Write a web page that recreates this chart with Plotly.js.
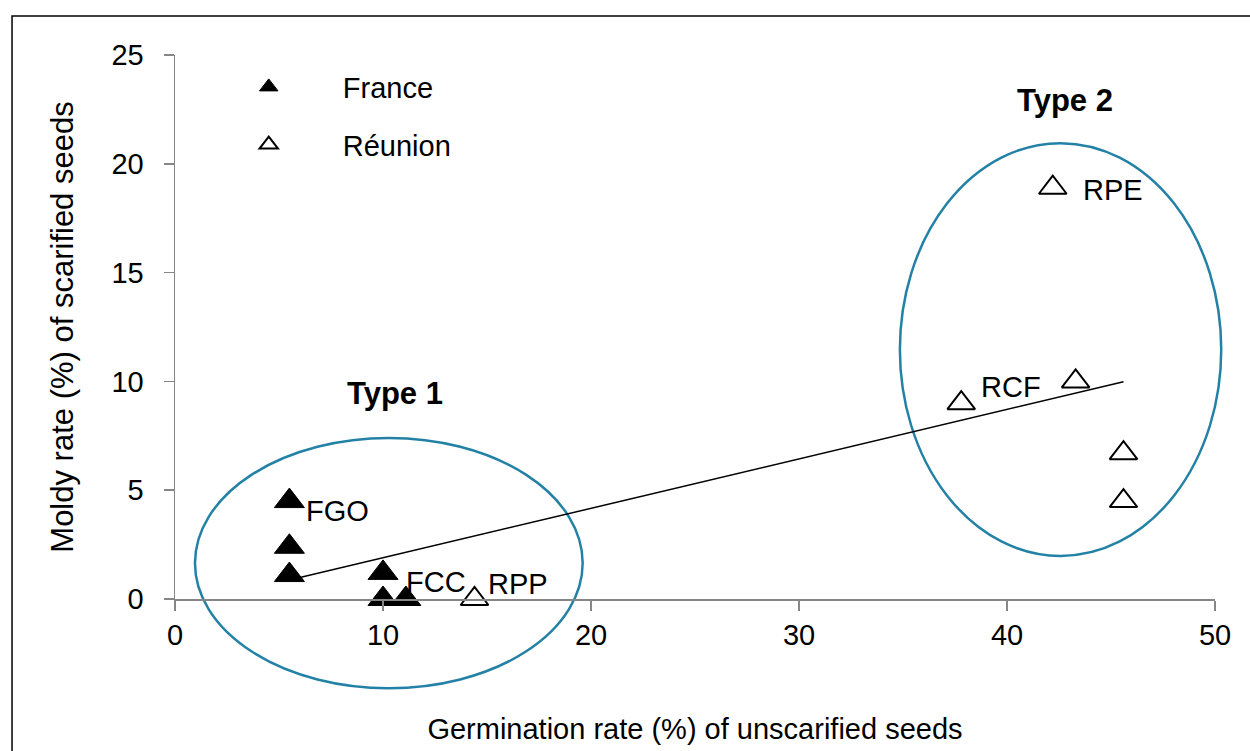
<!DOCTYPE html>
<html>
<head>
<meta charset="utf-8">
<script src="https://cdn.plot.ly/plotly-3.0.1.min.js"></script>
<style>html,body{margin:0;padding:0;background:#fff;}#chart{width:1250px;height:751px;}</style>
</head>
<body>
<div id="chart"></div>
<script>
// ---- data ----
const franceX = [5.5, 5.5, 5.5, 10, 10, 11.1];
const franceY = [4.5, 2.4, 1.1, 1.2, 0, 0];
const franceLabels = ['FGO', '', '', 'FCC', '', ''];

const reunionX = [14.4, 42.2, 37.8, 43.3, 45.6, 45.6];
const reunionY = [0, 18.9, 9.0, 10.0, 6.7, 4.5];
const reunionLabels = ['RPP', 'RPE', 'RCF', '', '', ''];

const seriesNames = ['France', 'Réunion'];
const groupNames = ['Type 1', 'Type 2'];
// group ellipses in data units: [xmin, xmax, ymin, ymax]
const groupEllipseX = [[0.96, 19.6], [34.85, 50.3]];
const groupEllipseY = [[-4.1, 7.4], [1.98, 20.95]];
const groupTitleX = [10.6, 42.8];
const groupTitleY = [9.45, 22.9];

const xTitle = 'Germination rate (%) of unscarified seeds';
const yTitle = 'Moldy rate (%) of scarified seeds';
const xRange = [0, 50];
const yRange = [0, 25];

// ---- styles ----
const FONT = 'Liberation Sans, Arial, sans-serif';
const FS = 29;
const ellipseColor = '#2381a6';
const axisColor = '#868686';
// label offsets in px (style only)
const labelShift = {
  FGO: [15, -10], FCC: [21, -9], RPP: [11, 15], RPE: [28, -2], RCF: [18, 16]
};

// ---- linear trend through all points ----
const allX = franceX.concat(reunionX);
const allY = franceY.concat(reunionY);
const n = allX.length;
const mx = allX.reduce((a, b) => a + b, 0) / n;
const my = allY.reduce((a, b) => a + b, 0) / n;
let sxy = 0, sxx = 0;
for (let i = 0; i < n; i++) { sxy += (allX[i] - mx) * (allY[i] - my); sxx += (allX[i] - mx) ** 2; }
const slope = sxy / sxx;
const icpt = my - slope * mx;
const tx = [Math.min(...allX), Math.max(...allX)];
const ty = tx.map(v => icpt + slope * v);

const traces = [
  {
    x: tx, y: ty, mode: 'lines', showlegend: false, hoverinfo: 'skip',
    line: {color: '#000', width: 1.5}
  },
  {
    x: franceX, y: franceY, mode: 'markers', name: seriesNames[0], legendgroup: 'a',
    marker: {symbol: 'triangle-up', size: 26, color: '#000', line: {color: '#000', width: 1}},
    cliponaxis: false
  },
  {
    x: reunionX, y: reunionY, mode: 'markers', name: seriesNames[1], legendgroup: 'b',
    marker: {symbol: 'triangle-up-open', size: 24, color: '#000', line: {color: '#000', width: 2}},
    cliponaxis: false
  }
];

const annotations = [];
function addLabels(xs, ys, labs) {
  for (let i = 0; i < xs.length; i++) {
    if (!labs[i]) continue;
    const s = labelShift[labs[i]] || [15, 0];
    annotations.push({
      x: xs[i], y: ys[i], xref: 'x', yref: 'y', text: labs[i], showarrow: false,
      xanchor: 'left', yanchor: 'middle', xshift: s[0], yshift: s[1],
      font: {family: FONT, size: FS, color: '#000'}
    });
  }
}
addLabels(franceX, franceY, franceLabels);
addLabels(reunionX, reunionY, reunionLabels);
for (let g = 0; g < groupNames.length; g++) {
  annotations.push({
    x: groupTitleX[g], y: groupTitleY[g], xref: 'x', yref: 'y', text: '<b>' + groupNames[g] + '</b>',
    showarrow: false, xanchor: 'center', yanchor: 'middle',
    font: {family: FONT, size: 31, color: '#000'}
  });
}

const fx = v => (v - xRange[0]) / (xRange[1] - xRange[0]);
const fy = v => (v - yRange[0]) / (yRange[1] - yRange[0]);
const shapes = [];
for (let g = 0; g < groupNames.length; g++) {
  shapes.push({
    type: 'circle', xref: 'x domain', yref: 'y domain', layer: 'below',
    x0: fx(groupEllipseX[g][0]), x1: fx(groupEllipseX[g][1]),
    y0: fy(groupEllipseY[g][0]), y1: fy(groupEllipseY[g][1]),
    line: {color: ellipseColor, width: 2.5}
  });
}
// outer frame
shapes.push({
  type: 'rect', xref: 'paper', yref: 'paper', x0: -0.1567, x1: 1.1, y0: -0.4, y1: 1.0717,
  line: {color: '#000', width: 1.5}, fillcolor: 'rgba(0,0,0,0)'
});

const layout = {
  width: 1250, height: 751,
  margin: {l: 175, r: 35, t: 55, b: 152},
  paper_bgcolor: '#fff', plot_bgcolor: '#fff',
  font: {family: FONT, size: FS, color: '#000'},
  showlegend: true,
  legend: {
    x: 0.019, y: 0.988, xanchor: 'left', yanchor: 'top',
    font: {family: FONT, size: FS, color: '#000'},
    bgcolor: 'rgba(0,0,0,0)', traceorder: 'grouped', tracegroupgap: 17,
    itemwidth: 138
  },
  xaxis: {
    range: xRange, tickvals: [0, 10, 20, 30, 40, 50], showgrid: false, zeroline: false,
    showline: true, linecolor: axisColor, linewidth: 1.5,
    ticks: 'outside', ticklen: 10, tickwidth: 1.5, tickcolor: axisColor,
    tickfont: {family: FONT, size: FS, color: '#000'},
    title: {text: xTitle, font: {family: FONT, size: FS, color: '#000'}, standoff: 68},
    automargin: false, fixedrange: true
  },
  yaxis: {
    range: yRange, tickvals: [0, 5, 10, 15, 20, 25], showgrid: false, zeroline: false,
    showline: true, linecolor: axisColor, linewidth: 1.5,
    ticks: 'outside', ticklen: 10, tickwidth: 1.5, tickcolor: axisColor,
    tickfont: {family: FONT, size: FS, color: '#000'},
    ticklabelstandoff: 14,
    title: {text: yTitle, font: {family: FONT, size: 31, color: '#000'}, standoff: 28},
    automargin: false, fixedrange: true
  },
  shapes: shapes,
  annotations: annotations
};

Plotly.newPlot('chart', traces, layout, {displayModeBar: false, staticPlot: true});
</script>
</body>
</html>
